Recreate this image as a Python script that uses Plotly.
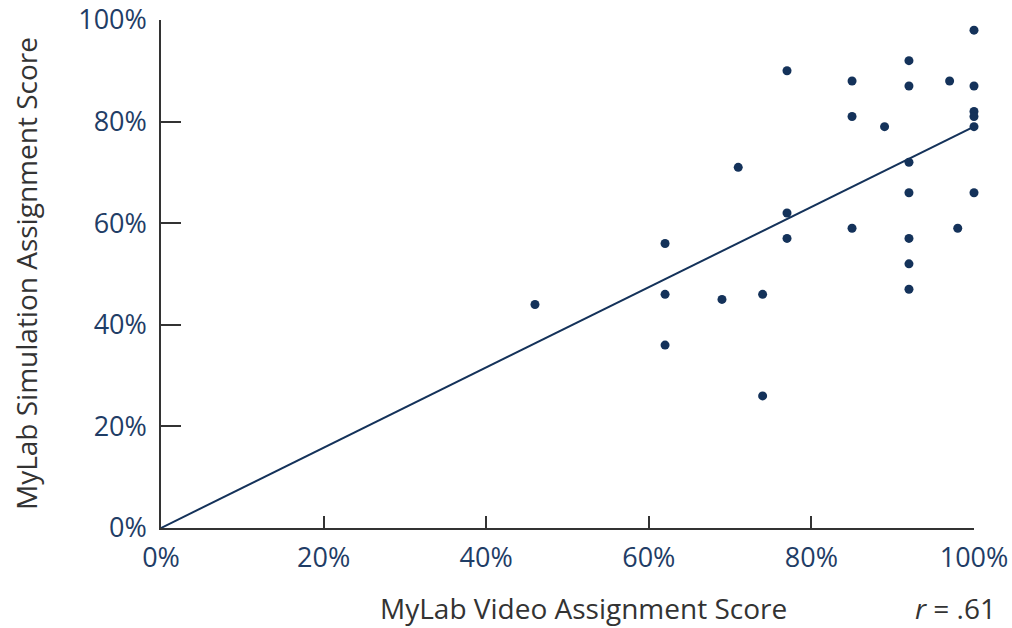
import plotly.graph_objects as go

video_score = [46, 62, 62, 62, 69, 71, 74, 74, 77, 77, 77, 85, 85, 85, 89,
               92, 92, 92, 92, 92, 92, 92, 97, 98, 100, 100, 100, 100, 100, 100]
sim_score = [44, 56, 46, 36, 45, 71, 46, 26, 90, 62, 57, 88, 81, 59, 79,
             92, 87, 72, 66, 57, 52, 47, 88, 59, 98, 87, 82, 81, 79, 66]

trend_x = [0, 100]
trend_y = [0, 79]

tick_vals = [0, 20, 40, 60, 80, 100]
tick_text = ["0%", "20%", "40%", "60%", "80%", "100%"]

navy = "#14325a"
label_blue = "#1f3d66"
axis_gray = "#333333"
font_family = "Open Sans"

fig = go.Figure()
fig.add_trace(go.Scatter(x=trend_x, y=trend_y, mode="lines",
                         line=dict(color=navy, width=2), hoverinfo="skip",
                         showlegend=False, cliponaxis=False))
fig.add_trace(go.Scatter(x=video_score, y=sim_score, mode="markers",
                         marker=dict(color=navy, size=9, line=dict(width=0)),
                         showlegend=False, cliponaxis=False))

fig.update_layout(
    width=1012, height=628,
    margin=dict(l=161, r=38, t=20, b=100, autoexpand=False),
    plot_bgcolor="white", paper_bgcolor="white",
    font=dict(family=font_family, color=label_blue),
    xaxis=dict(range=[0, 100], tickvals=tick_vals, ticktext=tick_text,
               showgrid=False, zeroline=False, showline=True, automargin=False,
               linecolor=axis_gray, linewidth=1.5,
               ticks="inside", ticklen=12, tickwidth=1.5, tickcolor=axis_gray,
               ticklabelstandoff=5, ticklabeloverflow="allow",
               tickfont=dict(size=27, color=label_blue, family=font_family)),
    yaxis=dict(range=[0, 100], tickvals=tick_vals, ticktext=tick_text,
               showgrid=False, zeroline=False, showline=True, automargin=False,
               linecolor=axis_gray, linewidth=1.5,
               ticks="inside", ticklen=20, tickwidth=1.5, tickcolor=axis_gray,
               ticklabelstandoff=7, ticklabeloverflow="allow",
               tickfont=dict(size=27, color=label_blue, family=font_family)),
    annotations=[
        dict(text="MyLab Video Assignment Score", xref="paper", yref="paper",
             x=0.52, y=-0.157, xanchor="center", yanchor="middle",
             showarrow=False, font=dict(size=28, color=axis_gray, family=font_family)),
        dict(text="MyLab Simulation Assignment Score", xref="paper", yref="paper",
             x=-0.166, y=0.5, xanchor="center", yanchor="middle", textangle=-90,
             showarrow=False, font=dict(size=28, color=axis_gray, family=font_family)),
        dict(text="<i>r</i> = .61", xref="paper", yref="paper",
             x=1.03, y=-0.157, xanchor="right", yanchor="middle",
             showarrow=False, font=dict(size=28, color=axis_gray, family=font_family)),
    ],
)

fig.write_html(
    "out.html",
    config={"displayModeBar": False},
    post_script="document.body.style.margin='0';document.body.style.overflow='hidden';",
)
